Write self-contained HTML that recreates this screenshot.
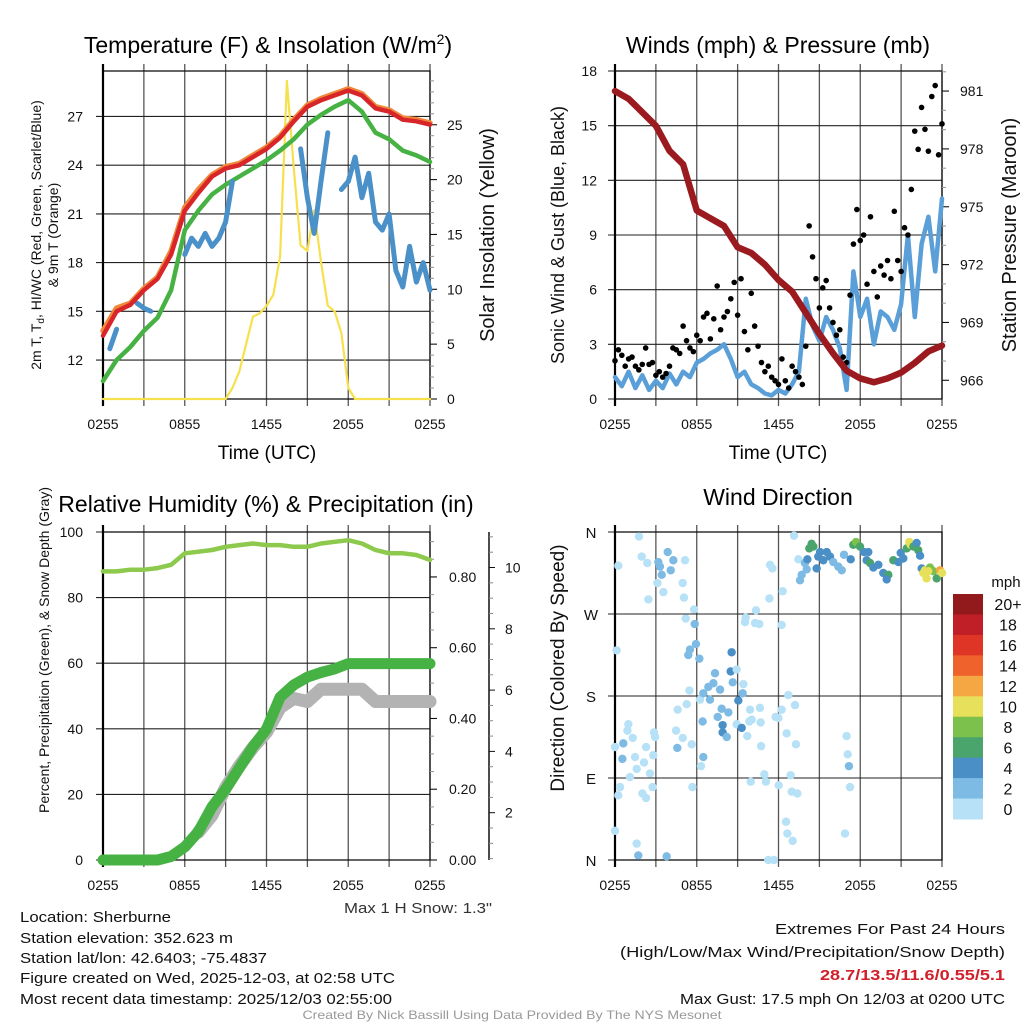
<!DOCTYPE html>
<html><head><meta charset="utf-8"><title>NYS Mesonet Sherburne</title>
<style>
html,body{margin:0;padding:0;background:#fff;}
svg{display:block;font-family:"Liberation Sans",sans-serif;}
</style></head>
<body>
<svg id="chart" xmlns="http://www.w3.org/2000/svg" width="1024" height="1024" viewBox="0 0 1024 1024">
<rect width="1024" height="1024" fill="#fff"/>
</svg>
<script>
// ---------- DATA ----------
const tempRed = [13.5,15.0,15.4,16.3,17.0,18.5,21.2,22.3,23.3,23.8,24.0,24.5,25.0,25.7,26.7,27.6,28.0,28.3,28.6,28.3,27.5,27.3,26.8,26.7,26.5];
const tempOrange = [13.8,15.2,15.5,16.4,17.1,18.7,21.4,22.5,23.4,23.9,24.1,24.6,25.1,25.8,26.8,27.7,28.1,28.4,28.7,28.4,27.6,27.4,26.9,26.8,26.6];
const dewGreen = [10.7,12.0,12.8,13.8,14.6,16.3,20.0,21.2,22.2,22.8,23.3,23.8,24.3,24.9,25.6,26.5,27.1,27.6,28.0,27.3,26.0,25.6,24.9,24.6,24.2];
const windChill = [null,12.7,13.9,null,null,15.5,15.2,15.0,null,null,null,null,18.5,19.5,19.0,19.8,19.0,19.5,20.5,23.0,null,null,null,null,null,null,null,null,null,25.0,22.0,19.8,23.0,26.0,null,22.5,23.0,24.5,22.0,23.5,20.5,20.0,21.0,17.5,16.5,19.0,16.8,18.0,16.3];
const solar = [0,0,0,0,0,0,0,0,0,0,0,0,0,0,0,0,0,0,0,1,2.5,5,7.5,7.8,8.5,9.5,13,29,21,14,13.5,17.2,12.5,8.5,8,6,1,0,0,0,0,0,0,0,0,0,0,0,0];
const pressure = [981.0,980.6,979.9,979.2,977.9,977.2,974.8,974.4,974.0,972.9,972.6,972.0,971.2,970.6,969.5,968.4,967.4,966.5,966.1,965.9,966.1,966.4,966.9,967.5,967.8];
const windSpeed = [1.2,0.7,1.5,0.6,1.3,0.5,1.0,0.6,1.4,0.8,1.5,1.2,2.0,2.2,2.5,2.7,3.0,2.2,1.2,1.5,0.8,0.6,0.3,0.2,0.5,0.3,0.8,1.5,5.5,4.0,3.2,4.5,3.8,2.8,0.5,7.0,4.5,5.5,3.0,4.8,4.5,3.8,5.2,9.0,4.5,8.5,10.0,7.0,11.0];
const windGust = [2.1,2.7,2.4,1.8,2.2,2.3,1.8,1.6,1.9,2.8,1.9,2.0,1.3,1.5,1.2,1.4,1.8,2.8,2.7,2.5,4.0,3.2,2.8,2.6,3.5,3.2,4.5,4.7,3.3,4.4,6.2,3.8,4.5,4.8,5.5,6.4,4.6,6.6,3.7,2.7,5.8,4.0,2.9,2.0,1.5,1.8,1.2,1.0,0.8,2.2,1.0,0.6,1.8,1.5,1.2,0.8,2.9,9.5,7.8,6.6,5.0,6.1,6.5,5.0,4.2,3.5,3.8,2.3,2.0,5.7,8.5,10.4,8.7,9.0,6.3,10.0,7.0,5.6,7.3,6.8,7.6,6.6,10.3,7.6,7.0,9.4,9.0,11.5,14.7,13.7,16.0,14.8,13.6,16.6,17.2,13.4,15.1];
const relHum = [88,88,88.5,88.5,89,90,93.5,94,94.5,95.5,96,96.5,96,96,95.5,95.5,96.5,97,97.5,96.5,94.5,93.5,93.5,93,91.5];
const precip = [0,0,0,0,0,0.01,0.037,0.08,0.15,0.2,0.26,0.32,0.37,0.46,0.495,0.517,0.53,0.54,0.555,0.555,0.555,0.555,0.555,0.555,0.555];
const snowDepth = [null,null,null,null,null,null,null,0.45,1.0,1.9,2.6,3.2,3.7,4.5,4.8,4.7,5.1,5.1,5.1,5.1,4.7,4.7,4.7,4.7,4.7];
const dirTime = [1.76,0.24,1.96,2.37,2.45,3.18,3.87,3.30,3.43,4.09,4.28,5.14,3.11,3.55,4.97,5.06,5.80,5.19,5.85,5.94,5.50,5.38,6.19,0.12,5.46,5.26,4.60,6.24,6.48,6.85,7.22,7.34,7.71,6.97,7.83,8.56,8.49,8.93,8.64,9.42,9.37,9.05,8.32,7.54,6.43,7.90,7.90,8.20,8.93,9.30,9.71,9.91,10.03,10.64,10.69,9.86,9.54,10.28,10.59,9.59,10.35,11.33,11.38,11.55,12.31,12.23,11.99,12.23,11.79,12.72,13.21,12.60,13.28,0.98,0.91,1.30,0,0.61,0.54,1.47,1.10,1.59,2.13,2.57,2.86,2.94,2.28,2.81,2.01,2.28,0.37,0.24,2.76,4.48,4.97,4.57,5.63,6.48,6.31,5.68,10.72,10.96,11.08,9.96,12.01,12.89,12.97,13.38,12.55,12.65,13.04,0,1.59,1.71,3.79,11.25,11.67,13.14,13.46,17.00,17.08,17.17,17.25,16.88,13.58,13.70,14.07,13.94,14.12,14.26,14.43,14.56,14.80,14.92,15.05,15.29,15.54,15.78,16.02,16.39,16.64,16.81,17.30,17.49,17.69,17.98,18.28,18.59,18.47,18.72,18.96,19.33,19.69,20.06,19.94,20.43,20.80,20.97,21.16,21.41,21.60,21.70,21.90,22.14,22.26,22.39,22.51,22.63,22.75,22.87,23.12,23.36,23.61,23.85,24.0,22.99];
const dirDeg = [355,323,333,326,286,327,338,322,313,318,329,329,304,294,304,288,275,265,259,237,231,225,221,230,186,171,165,176,183,190,194,205,187,176,166,228,207,209,195,193,183,175,162,157,152,148,140,135,149,145,136,165,154,167,151,152,261,260,259,266,274,287,324,320,295,258,156,165,157,181,170,139,127,149,142,134,124,128,111,113,91,100,107,95,140,135,124,115,73,68,80,71,80,142,134,123,127,113,103,80,125,94,86,86,82,93,75,73,42,29,21,32,18,5,4,0,0,356,330,136,116,103,80,29,307,313,319,326,330,342,347,344,320,333,338,329,338,333,327,322,318,335,330,346,349,344,338,338,329,326,321,324,315,313,308,329,327,337,331,342,349,346,344,348,340,334,320,315,318,309,321,317,309,318,315,317];
const dirSpeed = [1,1,1,1,1,3,3,3,3,3,3,1,1,1,1,1,1,1,3,3,3,3,3,1,1,1,1,1,3,3,3,3,3,3,3,5,5,1,3,1,3,5,3,3,3,5,5,3,1,5,1,1,1,1,1,1,1,1,1,1,1,1,1,1,1,1,1,1,1,1,1,1,1,1,1,1,1,3,3,1,1,1,1,1,1,1,1,1,1,1,1,1,1,1,1,3,1,3,1,1,1,1,1,1,1,1,1,1,1,1,1,1,1,3,3,1,1,1,1,1,1,3,1,1,3,3,3,3,5,7,7,7,5,5,5,5,5,5,3,3,3,3,5,7,9,7,5,5,5,7,5,5,5,7,5,7,5,5,5,7,11,11,7,5,7,5,5,11,11,11,9,9,7,13,11,11];
const leftTicksT = [12,15,18,21,24,27];
const rightTicksSolar = [0,5,10,15,20,25];
const windTicks = [0,3,6,9,12,15,18];
const pressTicks = [966,969,972,975,978,981];
const rhTicks = [0,20,40,60,80,100];
const precipTicks = [0,0.2,0.4,0.6,0.8];
const snowTicks = [2,4,6,8,10];
const dirTicks = [0,90,180,270,360];
const dirLabels = ["N","E","S","W","N"];
const timeTicks = [0,6,12,18,24];
const timeLabels = ["0255","0855","1455","2055","0255"];
const cbLabels = ["20+","18","16","14","12","10","8","6","4","2","0"];
const cbColors = ["#921a1d","#c01f28","#de3527","#ef622b","#f5a743","#e6e05a","#7bc14b","#4aa56c","#4a8fc6","#7ebbe4","#b6e1f6"];

// ---------- HELPERS ----------
const NS = "http://www.w3.org/2000/svg";
const svg = document.getElementById("chart");
function mk(tag, attrs, parent){const e=document.createElementNS(NS,tag);for(const k in attrs)e.setAttribute(k,attrs[k]);(parent||svg).appendChild(e);return e;}
function txt(s, attrs, parent){const e=mk("text",attrs,parent);e.textContent=s;return e;}
const P1={x0:103,x1:430,y0:71,y1:399};
const P2={x0:615,x1:942,y0:71,y1:399};
const P3={x0:103,x1:430,y0:532,y1:860};
const P4={x0:615,x1:942,y0:532,y1:860};
function X(p,t){return p.x0+(p.x1-p.x0)*t/24;}
function Y(p,v,d){return p.y1-(v-d[0])/(d[1]-d[0])*(p.y1-p.y0);}
const dT=[9.6,29.8], dS=[0,29.9], dW=[0,18], dP=[965.03,982.04], dRH=[0,100], dPr=[0,0.927], dSn=[-0.455,10.21], dD=[0,360];

function grid(p, name, yTicks, dom){
  const g=mk("g",{});
  
  
  for(let t=0;t<=24;t+=3){
    const l=mk("line",{x1:X(p,t),x2:X(p,t),y1:p.y0-7,y2:p.y1+7,stroke:"#555","stroke-width":1.3},g);
    
    
  }
  yTicks.forEach(v=>{
    const y=Y(p,v,dom);
    const l=mk("line",{x1:p.x0-7,x2:p.x1,y1:y,y2:y,stroke:"#222","stroke-width":1.1},g);
    
    
  });
  const r=mk("rect",{x:p.x0,y:p.y0,width:p.x1-p.x0,height:p.y1-p.y0,fill:"none",stroke:"#111","stroke-width":1.3},g);
  
  
  const lx=mk("line",{x1:p.x0,x2:p.x0,y1:p.y0-7,y2:p.y1+7,stroke:"#000","stroke-width":2.2},g);
  
  
}
function xLabels(p,name){
  timeTicks.forEach((t,i)=>{
    const e=txt(timeLabels[i],{x:X(p,t),y:p.y1+30,"font-size":14,"text-anchor":"middle",fill:"#111"});
    
    
  });
}
function yLabels(p,ticks,dom,fmt,name,x,anchor){
  ticks.forEach(v=>{
    const e=txt(fmt(v),{x:x,y:Y(p,v,dom)+5,"font-size":14,"text-anchor":anchor,fill:"#111"});
    
    
  });
}
function rightTicks(p,ax,from,to,step,minor,dom,name,len){
  for(let v=from;v<=to+1e-9;v+=minor){
    const isMaj=Math.abs((v-from)/step-Math.round((v-from)/step))<1e-6;
    const y=Y(p,v,dom);
    if(y<p.y0-1||y>p.y1+1)continue;
    const l=mk("line",{x1:ax,x2:ax+(isMaj?len:4),y1:y,y2:y,stroke:isMaj?"#111":"#999","stroke-width":1.1});
    
    
  }
}
function series(p, step, vals, dom, color, w, name, opacity){
  let segs=[],cur=[];
  vals.forEach((v,i)=>{
    if(v===null){if(cur.length)segs.push(cur);cur=[];return;}
    cur.push([X(p,i*step),Y(p,v,dom)]);
  });
  if(cur.length)segs.push(cur);
  const g=mk("g",{});
  
  
  segs.forEach(s=>{
    if(s.length===1)s.push([s[0][0]+3,s[0][1]]);
    const pl=mk("polyline",{points:s.map(q=>q[0].toFixed(1)+","+q[1].toFixed(1)).join(" "),fill:"none",stroke:color,"stroke-width":w,"stroke-linecap":"round","stroke-linejoin":"round","stroke-opacity":opacity||1},g);
    
    
  });
}
function title(s,x,y,name){
  const e=txt(s,{x:x,y:y,"font-size":23,"text-anchor":"middle",fill:"#000"});
  
  
  return e;
}
function rotLabel(s,x,y,size,name){
  const e=txt(s,{x:x,y:y,"font-size":size,"text-anchor":"middle",fill:"#111",transform:`rotate(-90 ${x} ${y})`});
  
  
  return e;
}

// ---------- PANEL 1 ----------
grid(P1,"temperature-panel",leftTicksT,dT);
rightTicks(P1,P1.x1,0,29,5,1,dS,"solar-axis",7);
series(P1,0.5,solar,dS,"#f7e04e",2.2,"solar-insolation-line");
series(P1,1,tempOrange,dT,"#f0883a",5.5,"9m-temperature-line");
series(P1,1,dewGreen,dT,"#47b244",4.5,"dewpoint-line");
series(P1,0.5,windChill,dT,"#4a90c9",5,"wind-chill-line");
series(P1,1,tempRed,dT,"#d8252a",4.5,"2m-temperature-line");
xLabels(P1,"temperature");
yLabels(P1,leftTicksT,dT,v=>String(v),"temperature-y",83,"end");
yLabels(P1,rightTicksSolar,dS,v=>String(v),"solar-y",447,"start");
{
  const e=txt("Temperature (F) & Insolation (W/m",{x:268,y:53,"font-size":23,"text-anchor":"middle",fill:"#000"});
  
  
  const sup=mk("tspan",{"font-size":14,dy:-9},e); sup.textContent="2";
  const cl=mk("tspan",{"font-size":23,dy:9},e); cl.textContent=")";
}
{
  const e=txt("2m T, T",{x:41,y:235,"font-size":14,"text-anchor":"middle",fill:"#111",transform:"rotate(-90 41 235)"});
  
  
  const s=mk("tspan",{"font-size":10,dy:3},e); s.textContent="d";
  const r=mk("tspan",{"font-size":14,dy:-3},e); r.textContent=", HI/WC (Red, Green, Scarlet/Blue)";
}
rotLabel("& 9m T (Orange)",58,235,14,"temperature-y-axis-title-line2");
rotLabel("Solar Insolation (Yellow)",494,235,20,"solar-y-axis-title");
{const e=txt("Time (UTC)",{x:267,y:459,"font-size":19,"text-anchor":"middle",fill:"#000"});

}

// ---------- PANEL 2 ----------
grid(P2,"wind-panel",windTicks,dW);
rightTicks(P2,P2.x1,966,982,3,1,dP,"pressure-axis",7);
series(P2,0.5,windSpeed,dW,"#5a9fd8",4.5,"sonic-wind-line");
{
  const g=mk("g",{});
  
  
  windGust.forEach((v,i)=>{
    const c=mk("circle",{cx:X(P2,i*0.25),cy:Y(P2,v,dW),r:2.8,fill:"#000"},g);
    
    
  });
}
series(P2,1,pressure,dP,"#9b1a1f",6.5,"station-pressure-line");
xLabels(P2,"wind");
yLabels(P2,windTicks,dW,v=>String(v),"wind-y",597,"end");
yLabels(P2,pressTicks,dP,v=>String(v),"pressure-y",960,"start");
title("Winds (mph) & Pressure (mb)",778,53,"wind-title");
rotLabel("Sonic Wind & Gust (Blue, Black)",564,235,18,"wind-y-axis-title");
rotLabel("Station Pressure (Maroon)",1016,235,20,"pressure-y-axis-title");
{const e=txt("Time (UTC)",{x:778,y:459,"font-size":19,"text-anchor":"middle",fill:"#000"});

}

// ---------- PANEL 3 ----------
grid(P3,"humidity-panel",rhTicks,dRH);
rightTicks(P3,P3.x1,0,0.9,0.2,0.05,dPr,"precip-axis",7);
{
  const a=mk("line",{x1:489,x2:489,y1:532,y2:860,stroke:"#111","stroke-width":1.5});
  
  
  for(let v=0.5;v<=11;v+=0.5){
    const y=874-(v)*(874-567.5)/10;
    if(y<533)continue;
    const maj=Math.abs(v/2-Math.round(v/2))<1e-6;
    const l=mk("line",{x1:489,x2:489+(maj?6:4),y1:y,y2:y,stroke:maj?"#111":"#888","stroke-width":1});
    
    
  }
  snowTicks.forEach(v=>{
    const e=txt(String(v),{x:505,y:874-v*(874-567.5)/10+5,"font-size":14,fill:"#111"});
    
    
  });
}
series(P3,1,relHum,dRH,"#8dc94c",4.5,"relative-humidity-line");
series(P3,1,snowDepth,dSn,"#b3b3b3",13,"snow-depth-line");
series(P3,1,precip,dPr,"#47b244",11,"precipitation-line");
xLabels(P3,"humidity");
yLabels(P3,rhTicks,dRH,v=>String(v),"humidity-y",83,"end");
yLabels(P3,precipTicks,dPr,v=>v.toFixed(2),"precip-y",449,"start");
title("Relative Humidity (%) & Precipitation (in)",266,512,"humidity-title");
rotLabel("Percent, Precipitation (Green), & Snow Depth (Gray)",49,650,14,"humidity-y-axis-title");

// ---------- PANEL 4 ----------
grid(P4,"direction-panel",dirTicks,dD);
{
  const g=mk("g",{});
  
  
  dirTime.forEach((t,i)=>{
    const sp=dirSpeed[i];
    const bin=Math.min(10,Math.floor(sp/2));
    const c=mk("circle",{cx:X(P4,t),cy:Y(P4,dirDeg[i],dD),r:4.2,fill:cbColors[10-bin]},g);
    
    
  });
}
xLabels(P4,"direction");
dirTicks.forEach((v,i)=>{
  const e=txt(dirLabels[i],{x:591,y:Y(P4,v,dD)+6,"font-size":15,"text-anchor":"middle",fill:"#111"});
  
  
});
title("Wind Direction",778,505,"direction-title");
rotLabel("Direction (Colored By Speed)",564,668,19,"direction-y-axis-title");
{
  const g=mk("g",{});
  
  
  const h=225/11;
  cbColors.forEach((c,i)=>{
    const r=mk("rect",{x:953,y:594+i*h,width:30,height:h+0.5,fill:c},g);
    
    
    const t=txt(cbLabels[i],{x:1008,y:594+i*h+h/2+6,"font-size":16,"text-anchor":"middle",fill:"#111"},g);
    
    
  });
  const u=txt("mph",{x:1006,y:587,"font-size":15,"text-anchor":"middle",fill:"#111"},g);
  
  
}

// ---------- FOOTER ----------
function note(s,x,y,w,anchor,name,extra){
  const a={x:x,y:y,"font-size":15,"text-anchor":anchor,fill:"#111",textLength:w,lengthAdjust:"spacingAndGlyphs"};
  if(extra)for(const k in extra)a[k]=extra[k];
  const e=txt(s,a);
  
  
}
note("Max 1 H Snow: 1.3\"",418,913,148,"middle","max-snow-note",{fill:"#333"});
note("Location: Sherburne",20,922,151,"start","location-text");
note("Station elevation: 352.623 m",20,943,213,"start","elevation-text");
note("Station lat/lon: 42.6403; -75.4837",20,963,247,"start","latlon-text");
note("Figure created on Wed, 2025-12-03, at 02:58 UTC",20,983,375,"start","created-text");
note("Most recent data timestamp: 2025/12/03 02:55:00",20,1004,372,"start","timestamp-text");
note("Extremes For Past 24 Hours",1005,934,230,"end","extremes-heading");
note("(High/Low/Max Wind/Precipitation/Snow Depth)",1005,957,385,"end","extremes-subheading");
note("28.7/13.5/11.6/0.55/5.1",1005,980,185,"end","extremes-values",{fill:"#d1202a","font-weight":"bold"});
note("Max Gust: 17.5 mph On 12/03 at 0200 UTC",1005,1004,325,"end","max-gust-text");
note("Created By Nick Bassill Using Data Provided By The NYS Mesonet",512,1019,419,"middle","credit-text",{fill:"#999","font-size":12});
</script>
</body></html>
